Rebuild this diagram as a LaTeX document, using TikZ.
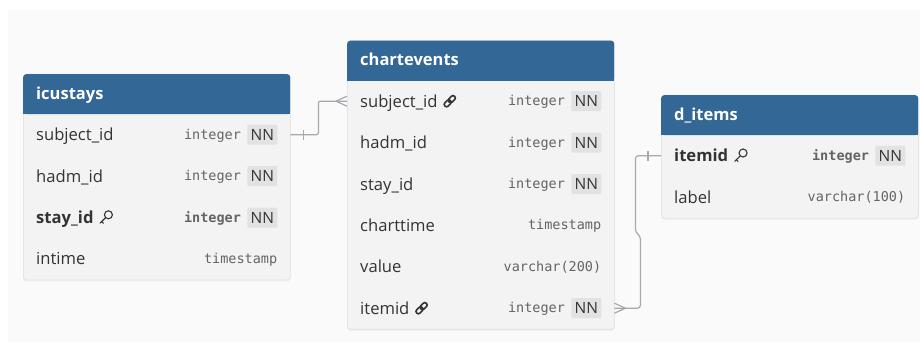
\documentclass[tikz,border=0pt]{standalone}
\usepackage{fontspec}
\setmainfont{Open Sans}
\newfontfamily\monof{DejaVu Sans Mono}
\usetikzlibrary{calc,shadows}
\definecolor{hdr}{RGB}{50,103,150}
\definecolor{bodyfill}{RGB}{243,243,243}
\definecolor{bodyline}{RGB}{224,224,224}
\definecolor{txt}{RGB}{51,51,51}
\definecolor{typ}{RGB}{100,100,100}
\definecolor{nnfill}{RGB}{226,226,226}
\definecolor{connc}{RGB}{168,168,176}
\definecolor{bgc}{RGB}{250,250,250}

\newcommand\tabframe[6]{% id, L, T, W, nrows, title
  \node[tbody, anchor=north west, minimum width=#4pt, minimum height={40pt+#5*41.4pt}] (#1) at (#2,#3) {};
  \node[thead, anchor=north west, minimum width=#4pt, minimum height=40pt] (#1-head) at (#2,#3) {};
  \fill[hdr] ([yshift=6pt]#1-head.south west) rectangle (#1-head.south east);
  \node[ttl, anchor=base west] (#1-title) at ([shift={(13pt,-5pt)}]#1-head.west) {#6};
}
\newcommand\rowNN[6]{% id, L, y, W, label, type
  \node[rowarea, minimum width=#4pt, anchor=west] (#1) at (#2,#3) {};
  \node[fname, anchor=base west] (#1-n) at ([shift={(13pt,-6pt)}]#1.west) {#5};
  \node[nnbox] (#1-nn) at ([xshift=-28pt]#1.east) {NN};
  \node[ftype, anchor=base east] (#1-t) at ([shift={(-6pt,-4.5pt)}]#1-nn.west) {#6};
}
\newcommand\rowPL[6]{% id, L, y, W, label, type
  \node[rowarea, minimum width=#4pt, anchor=west] (#1) at (#2,#3) {};
  \node[fname, anchor=base west] (#1-n) at ([shift={(13pt,-6pt)}]#1.west) {#5};
  \node[ftype, anchor=base east] (#1-t) at ([shift={(-13pt,-4.5pt)}]#1.east) {#6};
}

\begin{document}
\begin{tikzpicture}[x=1pt,y=-1pt,
  tbody/.style={draw=bodyline, fill=bodyfill, rounded corners=3pt, inner sep=0pt, line width=0.6pt,
    drop shadow={opacity=0.10, shadow xshift=0pt, shadow yshift=-1.5pt}},
  thead/.style={fill=hdr, rounded corners=3pt, inner sep=0pt},
  ttl/.style={text=white, font=\fontsize{16.5}{18}\selectfont\bfseries, inner sep=0pt},
  rowarea/.style={inner sep=0pt, minimum height=41.4pt},
  fname/.style={text=txt, font=\fontsize{16.6}{18}\selectfont, inner sep=0pt},
  ftype/.style={text=typ, font=\monof\fontsize{13.5}{16}\selectfont, inner sep=0pt},
  nnbox/.style={fill=nnfill, text=txt, font=\fontsize{15.5}{16}\selectfont, minimum width=30pt, minimum height=20pt, inner sep=0pt, rounded corners=1pt},
  conn/.style={draw=connc, line width=1.2pt},
  keyicon/.pic={
    \draw[txt, line width=1.1pt] (2.7,-2.7) circle (4pt);
    \draw[txt, line width=1.1pt, line cap=round] (-0.1,0.1) -- (-5.6,5.6);
    \draw[txt, line width=1.1pt, line cap=round] (-4,4) -- (-2.3,5.7);
  },
  linkicon/.pic={
    \begin{scope}[rotate=45]
      \draw[txt, line width=1.6pt, rounded corners=2pt] (-6.8,-2.3) rectangle (0.9,2.3);
      \draw[txt, line width=1.6pt, rounded corners=2pt] (-0.9,-2.3) rectangle (6.8,2.3);
    \end{scope}
  },
]
\fill[white] (0,0) rectangle (920,342);
\fill[bgc] (8,10) rectangle (920,342);
\useasboundingbox (0,0) rectangle (920,342);

% icustays
\tabframe{ic}{23}{74}{267}{4}{icustays}
\rowNN{ic-subject}{23}{134.7}{267}{subject\_id}{integer}
\rowNN{ic-hadm}{23}{176.1}{267}{hadm\_id}{integer}
\rowNN{ic-stay}{23}{217.5}{267}{\bfseries stay\_id}{\bfseries integer}
\rowPL{ic-intime}{23}{258.9}{267}{intime}{timestamp}
\pic at ($(ic-stay-n.east |- ic-stay.center)+(12,0)$) {keyicon};

% chartevents
\tabframe{ce}{347}{40.5}{267}{6}{chartevents}
\rowNN{ce-subject}{347}{101.2}{267}{subject\_id}{integer}
\rowNN{ce-hadm}{347}{142.6}{267}{hadm\_id}{integer}
\rowNN{ce-stay}{347}{184.0}{267}{stay\_id}{integer}
\rowPL{ce-chart}{347}{225.4}{267}{charttime}{timestamp}
\rowPL{ce-value}{347}{266.8}{267}{value}{varchar(200)}
\rowNN{ce-itemid}{347}{308.2}{267}{itemid}{integer}
\pic at ($(ce-subject-n.east |- ce-subject.center)+(12,0)$) {linkicon};
\pic at ($(ce-itemid-n.east |- ce-itemid.center)+(12,0)$) {linkicon};

% d_items
\tabframe{di}{661}{95}{257}{2}{d\_items}
\rowNN{di-itemid}{661}{155.7}{257}{\bfseries itemid}{\bfseries integer}
\rowPL{di-label}{661}{197.1}{257}{label}{varchar(100)}
\pic at ($(di-itemid-n.east |- di-itemid.center)+(12,0)$) {keyicon};

% connector icustays.subject_id -> chartevents.subject_id
\draw[conn, rounded corners=2pt] (ic-subject.east) -- ++(28,0) |- (ce-subject.west);
\draw[conn] ($(ic-subject.east)+(13,-5)$) -- ++(0,10);
\draw[conn] ($(ce-subject.west)+(-11,0)$) -- ($(ce-subject.west)+(0,-5)$);
\draw[conn] ($(ce-subject.west)+(-11,0)$) -- ($(ce-subject.west)+(0,5)$);

% connector chartevents.itemid -> d_items.itemid
\draw[conn, rounded corners=3pt] (ce-itemid.east) -- ++(26,0) -- ++(0,-72) -- ++(-5,-4) |- (di-itemid.west);
\draw[conn] ($(ce-itemid.east)+(11,0)$) -- ($(ce-itemid.east)+(0,-5)$);
\draw[conn] ($(ce-itemid.east)+(11,0)$) -- ($(ce-itemid.east)+(0,5)$);
\draw[conn] ($(di-itemid.west)+(-13,-5)$) -- ++(0,10);
\end{tikzpicture}
\end{document}
